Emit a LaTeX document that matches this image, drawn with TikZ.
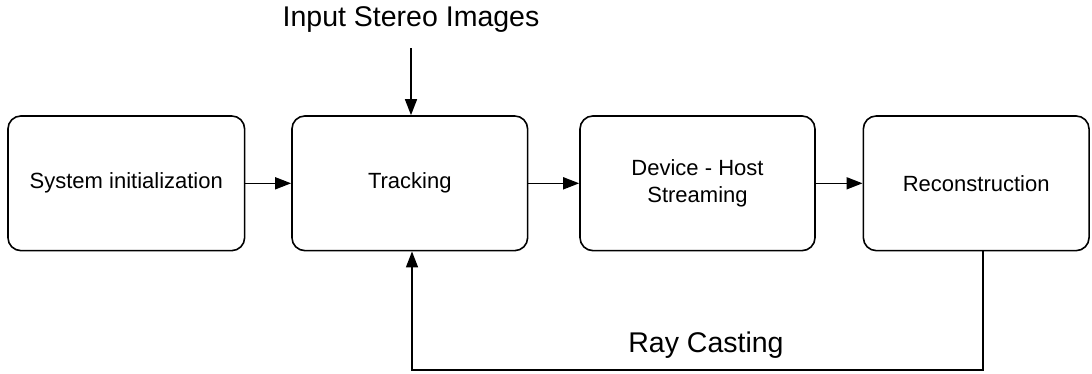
\documentclass[tikz,border=0pt]{standalone}
\usepackage{fontspec}
\setmainfont{Liberation Sans}
\usetikzlibrary{arrows.meta}
\begin{document}
\begin{tikzpicture}[x=1pt,y=-1pt,
  stage/.style={draw, line width=1.6pt, rounded corners=13pt, minimum height=134.7pt,
    inner sep=0pt, align=center, font=\fontsize{22}{27}\selectfont},
  flow/.style={line width=1.6pt, -{Triangle[length=16pt,width=12pt]}},
  bigtext/.style={anchor=base, inner sep=0pt, font=\fontsize{28.5}{34}\selectfont}]
  \useasboundingbox (0,0) rectangle (1092,373);

  % processing stages
  \node[stage, minimum width=236.7pt] (init)  at (126.3,183.3) {System initialization};
  \node[stage, minimum width=235.7pt] (track) at (409.8,183.3) {Tracking};
  \node[stage, minimum width=235pt]   (dev)   at (697.5,183.3) {Device - Host\\Streaming};
  \node[stage, minimum width=225.7pt] (recon) at (976.2,183.3) {Reconstruction};

  % labels
  \node[bigtext] (input) at (411,26) {Input Stereo Images};
  \node[bigtext] (ray)   at (706,352) {Ray Casting};

  % main pipeline
  \draw[flow] (init) -- (track);
  \draw[flow] (track) -- (dev);
  \draw[flow] (dev) -- (recon);

  % input images into tracking
  \coordinate (instart) at (411,48);
  \draw[flow] (instart) -- (instart |- track.north);

  % feedback loop from reconstruction back to tracking
  \coordinate (fbout) at (983,250);
  \coordinate (fbcorner) at (983,370);
  \coordinate (fbin) at (412,370);
  \draw[flow] (fbout |- recon.south) -- (fbcorner) -- (fbin) -- (fbin |- track.south);
\end{tikzpicture}
\end{document}
